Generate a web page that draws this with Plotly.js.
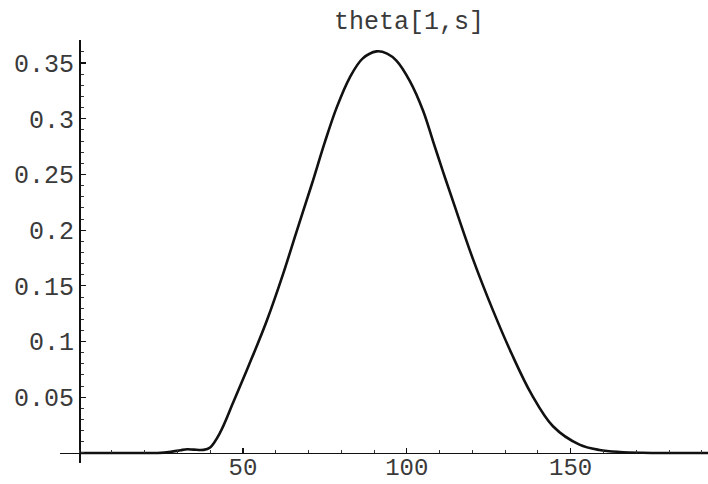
<!DOCTYPE html>
<html>
<head>
<meta charset="utf-8">
<script src="https://cdn.plot.ly/plotly-3.0.1.min.js"></script>
<style>html,body{margin:0;padding:0;background:#fff;}#plot{width:708px;height:484px;}</style>
</head>
<body>
<div id="plot"></div>
<script>
// Data
var sValues = [0, 10, 20, 24, 28, 31, 33, 35, 38, 40, 43, 47, 52, 57.2, 62.3, 66.4, 71, 75, 78.6, 82.6, 86.5, 90.8, 94, 96.9, 100.9, 105, 108, 111, 114.1, 120.2, 126.3, 132, 138, 144.6, 152.7, 158.8, 165, 172, 180, 192];
var thetaValues = [0, 0, 0, 0, 0.001, 0.0025, 0.0033, 0.003, 0.0028, 0.005, 0.018, 0.045, 0.080, 0.118, 0.161, 0.199, 0.241, 0.279, 0.310, 0.337, 0.354, 0.3605, 0.3585, 0.352, 0.334, 0.307, 0.280, 0.253, 0.226, 0.174, 0.128, 0.089, 0.053, 0.024, 0.0075, 0.0027, 0.0009, 0.0002, 0, 0];
var xTickVals = [50, 100, 150];
var xTickText = ["50", "100", "150"];
var yTickVals = [0.05, 0.1, 0.15, 0.2, 0.25, 0.3, 0.35];
var yTickText = ["0.05", "0.1", "0.15", "0.2", "0.25", "0.3", "0.35"];
var titleText = "theta[1,s]";

var xRange = [-5.8, 191.9];
var yRange = [-0.009, 0.3707];
var fontFam = "'Liberation Mono', 'Courier New', monospace";
var textColor = '#3a3a3a';

var trace = {
  x: sValues, y: thetaValues, type: 'scatter', mode: 'lines',
  line: {color: '#111', width: 2.6, shape: 'spline', smoothing: 1},
  hoverinfo: 'none'
};

var layout = {
  width: 708, height: 484,
  margin: {l: 60, r: 0, t: 40, b: 21},
  paper_bgcolor: '#fff', plot_bgcolor: '#fff',
  showlegend: false,
  title: {text: titleText, font: {family: fontFam, size: 25, color: textColor},
          x: 409/708, xref: 'container', xanchor: 'center', y: 1 - 20/484, yref: 'container', yanchor: 'middle'},
  xaxis: {
    range: xRange, anchor: 'free', position: (0 - yRange[0]) / (yRange[1] - yRange[0]),
    showgrid: false, zeroline: false, showline: true, linecolor: '#111', linewidth: 1.5,
    tickmode: 'array', tickvals: xTickVals, ticktext: xTickText,
    ticks: 'inside', ticklen: 5, tickwidth: 1.2, tickcolor: '#111',
    tickfont: {family: fontFam, size: 24, color: textColor}, ticklabelstandoff: -8,
    minor: {tickmode: 'linear', tick0: 0, dtick: 10, ticks: 'inside', ticklen: 3, tickwidth: 1, tickcolor: '#333'}
  },
  yaxis: {
    range: yRange, anchor: 'free', position: (0 - xRange[0]) / (xRange[1] - xRange[0]),
    showgrid: false, zeroline: false, showline: true, linecolor: '#111', linewidth: 1.5,
    tickmode: 'array', tickvals: yTickVals, ticktext: yTickText,
    ticks: 'inside', ticklen: 5, tickwidth: 1.2, tickcolor: '#111',
    tickfont: {family: fontFam, size: 25, color: textColor},
    minor: {tickmode: 'linear', tick0: 0, dtick: 0.01, ticks: 'inside', ticklen: 3, tickwidth: 1, tickcolor: '#333'}
  }
};

Plotly.newPlot('plot', [trace], layout, {staticPlot: true, displayModeBar: false});
</script>
</body>
</html>
